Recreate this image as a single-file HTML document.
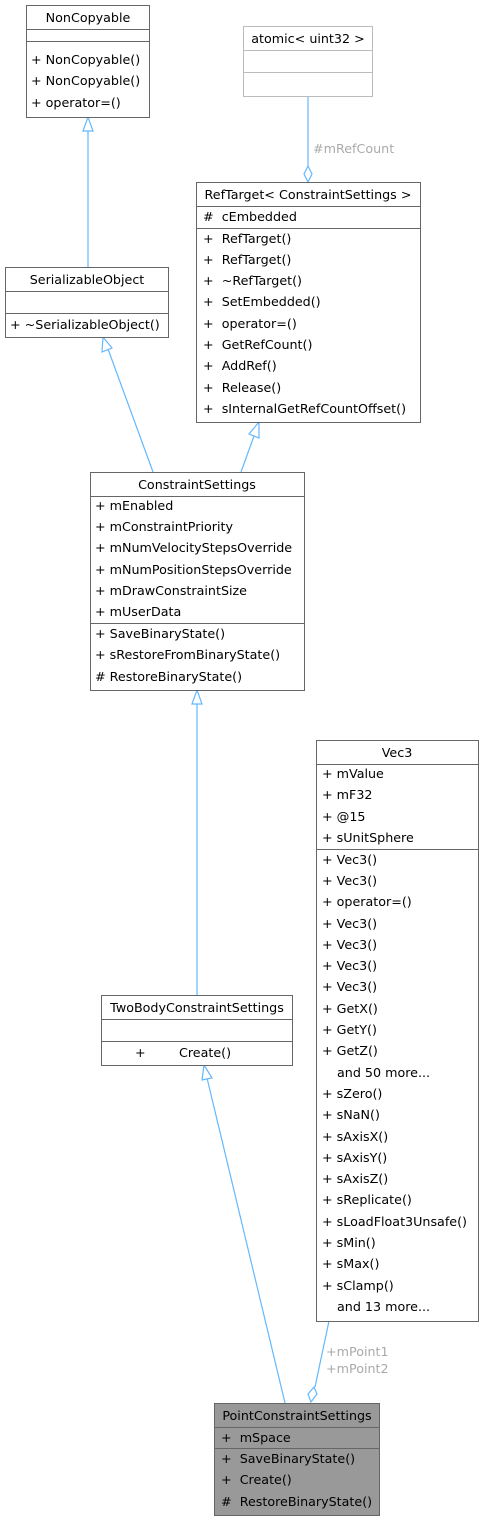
<!DOCTYPE html>
<html><head><meta charset="utf-8"><style>
html,body{margin:0;padding:0;background:#fff;}
svg text{font-family:"DejaVu Sans","Liberation Sans",sans-serif;font-size:12.7px;fill:#000;white-space:pre;}
</style></head><body>
<svg width="483" height="1520" xmlns="http://www.w3.org/2000/svg" xml:space="preserve">
<g fill="none" stroke="#63b8ff" stroke-width="1.2">
<line x1="88" y1="267" x2="88" y2="130"/>
<polygon points="88,117 83,131 93,131" fill="#fff"/>
<line x1="308" y1="96" x2="308" y2="166"/>
<polygon points="308,166 312,174 308,182 304,174" fill="#fff"/>
<line x1="153" y1="472" x2="108" y2="349"/>
<polygon points="103,337 102,352 112,348" fill="#fff"/>
<line x1="241" y1="472" x2="254" y2="436"/>
<polygon points="259,422 249,434 259,438" fill="#fff"/>
<line x1="197" y1="995" x2="197" y2="703"/>
<polygon points="197,690 192,704 202,704" fill="#fff"/>
<line x1="285" y1="1403" x2="207" y2="1078"/>
<polygon points="204,1065 202,1080 212,1078" fill="#fff"/>
<line x1="329" y1="1321" x2="315" y2="1387"/>
<polygon points="311,1402 308,1394 314,1387 317,1394" fill="#fff"/>
</g>
<text x="313" y="153" style="fill:#aaa">#mRefCount</text>
<text x="326" y="1356" style="fill:#aaa">+mPoint1</text>
<text x="326" y="1373" style="fill:#aaa">+mPoint2</text>
<g stroke="#666" fill="#fff">
<rect x="26.5" y="5.5" width="123" height="112"/>
<line x1="26.5" y1="29.5" x2="149.5" y2="29.5"/>
<line x1="26.5" y1="41.5" x2="149.5" y2="41.5"/>
</g>
<text x="88" y="22" text-anchor="middle">NonCopyable</text>
<text x="31" y="64">+ NonCopyable()</text>
<text x="31" y="85">+ NonCopyable()</text>
<text x="31" y="107">+ operator=()</text>
<g stroke="#bbb" fill="#fff">
<rect x="243.5" y="26.5" width="129" height="70"/>
<line x1="243.5" y1="50.5" x2="372.5" y2="50.5"/>
<line x1="243.5" y1="72.5" x2="372.5" y2="72.5"/>
</g>
<text x="308" y="43" text-anchor="middle">atomic&lt; uint32 &gt;</text>
<g stroke="#666" fill="#fff">
<rect x="196.5" y="182.5" width="224" height="240"/>
<line x1="196.5" y1="206.5" x2="420.5" y2="206.5"/>
<line x1="196.5" y1="228.5" x2="420.5" y2="228.5"/>
</g>
<text x="308" y="199" text-anchor="middle">RefTarget&lt; ConstraintSettings &gt;</text>
<text x="203" y="221">#  cEmbedded</text>
<text x="203" y="243">+  RefTarget()</text>
<text x="203" y="264">+  RefTarget()</text>
<text x="203" y="285">+  ~RefTarget()</text>
<text x="203" y="306">+  SetEmbedded()</text>
<text x="203" y="328">+  operator=()</text>
<text x="203" y="349">+  GetRefCount()</text>
<text x="203" y="370">+  AddRef()</text>
<text x="203" y="392">+  Release()</text>
<text x="203" y="413">+  sInternalGetRefCountOffset()</text>
<g stroke="#666" fill="#fff">
<rect x="5.5" y="267.5" width="163" height="70"/>
<line x1="5.5" y1="291.5" x2="168.5" y2="291.5"/>
<line x1="5.5" y1="313.5" x2="168.5" y2="313.5"/>
</g>
<text x="87" y="284" text-anchor="middle">SerializableObject</text>
<text x="10" y="329">+ ~SerializableObject()</text>
<g stroke="#666" fill="#fff">
<rect x="90.5" y="472.5" width="214" height="218"/>
<line x1="90.5" y1="496.5" x2="304.5" y2="496.5"/>
<line x1="90.5" y1="623.5" x2="304.5" y2="623.5"/>
</g>
<text x="197" y="489" text-anchor="middle">ConstraintSettings</text>
<text x="95" y="510">+ mEnabled</text>
<text x="95" y="531">+ mConstraintPriority</text>
<text x="95" y="552">+ mNumVelocityStepsOverride</text>
<text x="95" y="574">+ mNumPositionStepsOverride</text>
<text x="95" y="595">+ mDrawConstraintSize</text>
<text x="95" y="616">+ mUserData</text>
<text x="95" y="638">+ SaveBinaryState()</text>
<text x="95" y="659">+ sRestoreFromBinaryState()</text>
<text x="95" y="681"># RestoreBinaryState()</text>
<g stroke="#666" fill="#fff">
<rect x="316.5" y="740.5" width="162" height="581"/>
<line x1="316.5" y1="764.5" x2="478.5" y2="764.5"/>
<line x1="316.5" y1="849.5" x2="478.5" y2="849.5"/>
</g>
<text x="397" y="757" text-anchor="middle">Vec3</text>
<text x="322" y="778">+ mValue</text>
<text x="322" y="799">+ mF32</text>
<text x="322" y="821">+ @15</text>
<text x="322" y="842">+ sUnitSphere</text>
<text x="322" y="864">+ Vec3()</text>
<text x="322" y="885">+ Vec3()</text>
<text x="322" y="906">+ operator=()</text>
<text x="322" y="928">+ Vec3()</text>
<text x="322" y="949">+ Vec3()</text>
<text x="322" y="970">+ Vec3()</text>
<text x="322" y="991">+ Vec3()</text>
<text x="322" y="1013">+ GetX()</text>
<text x="322" y="1034">+ GetY()</text>
<text x="322" y="1055">+ GetZ()</text>
<text x="337" y="1077">and 50 more...</text>
<text x="322" y="1098">+ sZero()</text>
<text x="322" y="1119">+ sNaN()</text>
<text x="322" y="1141">+ sAxisX()</text>
<text x="322" y="1162">+ sAxisY()</text>
<text x="322" y="1183">+ sAxisZ()</text>
<text x="322" y="1204">+ sReplicate()</text>
<text x="322" y="1226">+ sLoadFloat3Unsafe()</text>
<text x="322" y="1247">+ sMin()</text>
<text x="322" y="1268">+ sMax()</text>
<text x="322" y="1290">+ sClamp()</text>
<text x="337" y="1311">and 13 more...</text>
<g stroke="#666" fill="#fff">
<rect x="101.5" y="995.5" width="191" height="70"/>
<line x1="101.5" y1="1019.5" x2="292.5" y2="1019.5"/>
<line x1="101.5" y1="1041.5" x2="292.5" y2="1041.5"/>
</g>
<text x="197" y="1012" text-anchor="middle">TwoBodyConstraintSettings</text>
<text x="135" y="1057">+</text>
<text x="179" y="1057">Create()</text>
<g stroke="#666" fill="#999">
<rect x="214.5" y="1403.5" width="165" height="112"/>
<line x1="214.5" y1="1427.5" x2="379.5" y2="1427.5"/>
<line x1="214.5" y1="1448.5" x2="379.5" y2="1448.5"/>
</g>
<text x="297" y="1420" text-anchor="middle">PointConstraintSettings</text>
<text x="221" y="1442">+  mSpace</text>
<text x="221" y="1463">+  SaveBinaryState()</text>
<text x="221" y="1484">+  Create()</text>
<text x="221" y="1506">#  RestoreBinaryState()</text>
</svg>
</body></html>
